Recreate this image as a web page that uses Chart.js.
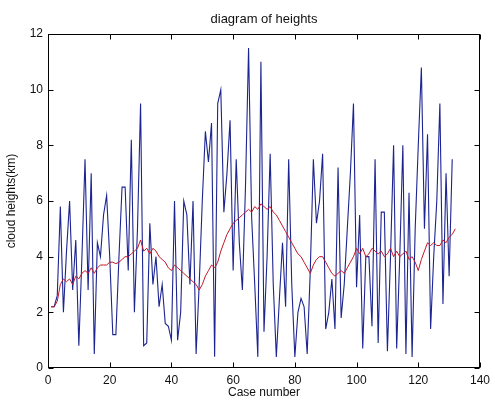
<!DOCTYPE html>
<html>
<head>
<meta charset="utf-8">
<script src="https://cdn.jsdelivr.net/npm/chart.js@4/dist/chart.umd.min.js"></script>
<style>
  html, body { margin: 0; padding: 0; background: #fff; }
  #wrap { width: 495px; height: 400px; }
</style>
</head>
<body>
<div id="wrap"><canvas id="heights" width="495" height="400"></canvas></div>
<script>
// cloud height of each case (km)
const heights = [
  2.2, 2.2, 2.6, 5.8, 2.0, 4.2, 6.0, 2.8, 4.6, 0.8,
  4.0, 7.5, 2.8, 7.0, 0.5, 4.5, 4.0, 5.5, 6.2, 4.0,
  1.2, 1.2, 4.0, 6.5, 6.5, 3.5, 8.2, 2.0, 5.0, 9.5,
  0.8, 0.9, 5.2, 3.0, 4.0, 2.2, 3.0, 1.6, 1.5, 1.0,
  6.0, 1.0, 2.0, 6.0, 5.5, 3.0, 6.0, 0.5, 3.0, 6.0,
  8.5, 7.4, 8.8, 0.4, 9.5, 10.0, 5.6, 7.0, 8.9, 3.5,
  7.5, 4.5, 2.8, 6.5, 11.5, 5.4, 3.0, 0.4, 11.0, 1.3,
  4.0, 7.7, 3.0, 0.4, 2.5, 4.5, 2.2, 7.5, 3.0, 0.4,
  2.0, 2.5, 2.2, 0.5, 3.5, 7.5, 5.2, 6.0, 7.7, 1.4,
  2.0, 3.2, 1.4, 7.2, 1.8, 3.0, 5.0, 7.0, 9.5, 2.9,
  5.5, 0.7, 4.0, 4.0, 1.5, 7.5, 0.9, 5.6, 5.6, 0.6,
  4.0, 8.0, 0.7, 4.0, 8.0, 0.5, 6.3, 0.4, 5.0, 8.0,
  10.8, 5.0, 8.4, 1.4, 4.0, 6.0, 9.5, 2.3, 7.0, 3.3,
  7.5
];
// red running trend
const trend = [
  2.2, 2.2, 2.4, 3.0, 3.2, 3.1, 3.2, 3.0, 3.3, 3.2,
  3.4, 3.5, 3.4, 3.6, 3.4, 3.6, 3.7, 3.7, 3.7, 3.8,
  3.8, 3.75, 3.8, 3.9, 4.0, 4.0, 4.1, 4.2, 4.3, 4.6,
  4.2, 4.3, 4.1, 4.3, 4.2, 4.0, 3.9, 3.8, 3.6, 3.5,
  3.7, 3.6, 3.5, 3.4, 3.3, 3.2, 3.1, 3.0, 2.8, 3.0,
  3.3, 3.5, 3.7, 3.6, 3.8, 4.2, 4.5, 4.8, 5.0, 5.2,
  5.3, 5.4, 5.5, 5.6, 5.7, 5.6, 5.8, 5.7, 5.9, 5.8,
  5.7, 5.8, 5.6, 5.5, 5.3, 5.1, 4.9, 4.7, 4.5, 4.3,
  4.1, 4.0, 3.8, 3.6, 3.4, 3.7, 3.9, 4.0, 4.0, 3.8,
  3.6, 3.4, 3.3, 3.4, 3.5, 3.4, 3.6, 3.8, 4.0, 4.3,
  4.1, 4.3, 4.0, 4.1, 4.3, 4.2, 4.1, 4.2, 4.0, 4.1,
  4.3, 4.0, 4.2, 4.0, 4.1, 4.2, 3.9, 4.0, 3.8, 3.5,
  3.9, 4.2, 4.5, 4.4, 4.5, 4.4, 4.4, 4.6, 4.5, 4.7,
  4.8, 5.0
];
const xTicks = [0, 20, 40, 60, 80, 100, 120, 140];
const yTicks = [0, 2, 4, 6, 8, 10, 12];

const chartTitle = 'diagram of heights';
const xTitle = 'Case number';
const yTitle = 'cloud heights(km)';

const fontFam = '"Liberation Sans", Arial, Helvetica, sans-serif';

function toPoints(arr) {
  return arr.map((v, i) => ({ x: i + 1, y: v }));
}

// matlab style box, inward ticks and the texts
const matlabAxes = {
  id: 'matlabAxes',
  afterDatasetsDraw(chart) {
    const ctx = chart.ctx;
    const a = chart.chartArea;
    const sx = chart.scales.x, sy = chart.scales.y;
    const L = Math.round(a.left) + 0.5, R = Math.round(a.right) - 0.5;
    const T = Math.round(a.top) + 0.5, B = Math.round(a.bottom) - 0.5;
    ctx.save();
    ctx.strokeStyle = '#000';
    ctx.lineWidth = 1;
    ctx.strokeRect(L, T, R - L, B - T);
    ctx.beginPath();
    xTicks.forEach(v => {
      const px = Math.round(sx.getPixelForValue(v)) + 0.5;
      ctx.moveTo(px, B); ctx.lineTo(px, B - 5);
      ctx.moveTo(px, T); ctx.lineTo(px, T + 5);
    });
    yTicks.forEach(v => {
      const py = Math.round(sy.getPixelForValue(v)) + 0.5;
      ctx.moveTo(L, py); ctx.lineTo(L + 5, py);
      ctx.moveTo(R, py); ctx.lineTo(R - 5, py);
    });
    ctx.stroke();

    ctx.fillStyle = '#111';
    ctx.textAlign = 'center';
    ctx.textBaseline = 'middle';
    ctx.font = '13px ' + fontFam;
    ctx.fillText(chartTitle, (a.left + a.right) / 2, 19);
    ctx.font = '12px ' + fontFam;
    ctx.fillText(xTitle, (a.left + a.right) / 2, 393);
    ctx.translate(12, (a.top + a.bottom) / 2);
    ctx.rotate(-Math.PI / 2);
    ctx.fillText(yTitle, 0, 0);
    ctx.restore();
  }
};

const ctx = document.getElementById('heights').getContext('2d');
new Chart(ctx, {
  type: 'line',
  data: {
    datasets: [
      {
        label: 'trend',
        data: toPoints(trend),
        borderColor: '#c01828',
        borderWidth: 1,
        pointRadius: 0,
        tension: 0,
        order: 0
      },
      {
        label: 'heights',
        data: toPoints(heights),
        borderColor: '#1c2490',
        borderWidth: 1.1,
        pointRadius: 0,
        tension: 0,
        order: 1
      }
    ]
  },
  options: {
    responsive: false,
    animation: false,
    layout: { padding: { left: 0, top: 34, right: 11, bottom: 0 } },
    plugins: {
      legend: { display: false },
      tooltip: { enabled: false },
      title: { display: false }
    },
    scales: {
      x: {
        type: 'linear',
        min: 0,
        max: 140,
        grid: { display: false, drawTicks: false },
        border: { display: false },
        afterFit: s => { s.height = 32; },
        afterBuildTicks: s => { s.ticks = xTicks.map(v => ({ value: v })); },
        ticks: { padding: 5, color: '#111', font: { size: 12, family: fontFam }, maxRotation: 0 }
      },
      y: {
        type: 'linear',
        min: 0,
        max: 12,
        grid: { display: false, drawTicks: false },
        border: { display: false },
        afterFit: s => { s.width = 48; },
        afterBuildTicks: s => { s.ticks = yTicks.map(v => ({ value: v })); },
        ticks: { padding: 5, color: '#111', font: { size: 12, family: fontFam } }
      }
    }
  },
  plugins: [matlabAxes]
});
</script>
</body>
</html>
